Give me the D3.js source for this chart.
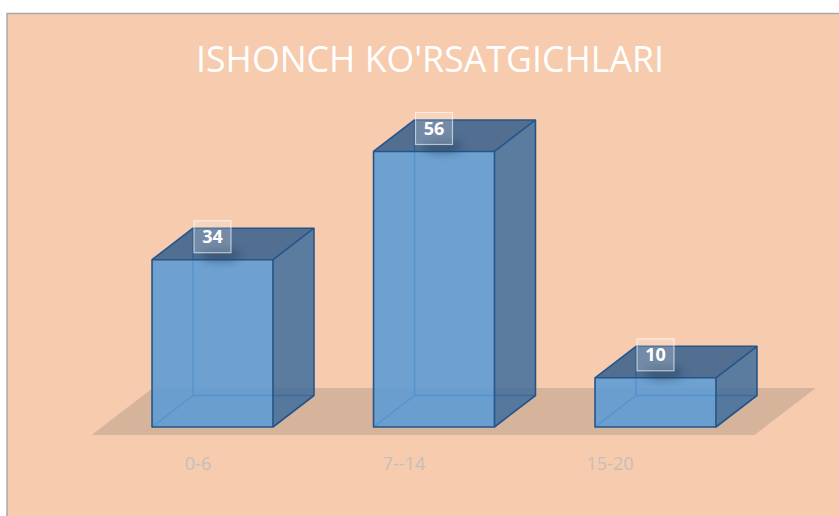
<!DOCTYPE html>
<html>
<head>
<meta charset="utf-8">
<script src="https://cdn.jsdelivr.net/npm/d3@7"></script>
<style>
  body { margin: 0; background: #fff; }
  svg { display: block; }
</style>
</head>
<body>
<div id="chart"></div>
<script>
const categories = ["0-6", "7--14", "15-20"];
const values = [34, 56, 10];
const title = "ISHONCH KO'RSATGICHLARI";

const W = 839, H = 516;
const depth = { dx: 41, dy: -31.5 };

const svg = d3.select("#chart").append("svg")
  .attr("width", W)
  .attr("height", H);

// Chart area background with grey top/left frame
svg.append("rect")
  .attr("x", 7).attr("y", 13.5)
  .attr("width", W).attr("height", H)
  .attr("fill", "#f7cbad")
  .attr("stroke", "#a9a9a9")
  .attr("stroke-width", 1.5);

const defs = svg.append("defs");
defs.append("filter").attr("id", "blur")
  .attr("x", "-50%").attr("y", "-50%").attr("width", "200%").attr("height", "200%")
  .append("feGaussianBlur").attr("stdDeviation", 4);

const x = d3.scaleBand()
  .domain(categories)
  .range([101.75, 766.25])
  .paddingInner(0.454)
  .paddingOuter(0.227);

const y = d3.scaleLinear()
  .domain([0, 60])
  .range([427, 131.8]);

// axis labels sit on the front edge of the floor (perspective shifted)
const xLabel = d3.scalePoint()
  .domain(categories)
  .range([198, 610]);

// Title
svg.append("text")
  .attr("x", 430)
  .attr("y", 72)
  .attr("text-anchor", "middle")
  .attr("font-family", "'Open Sans', sans-serif")
  .attr("font-size", 37)
  .attr("fill", "#ffffff")
  .attr("textLength", 468)
  .attr("lengthAdjust", "spacingAndGlyphs")
  .text(title);

// Floor
const base = y(0);
const f0 = x(categories[0]) - 50;
const f1 = x(categories[categories.length - 1]) + x.bandwidth() + 49;
const fz = 8 / 31.5; // floor overhang in front
const fBack = 1 + 7.5 / 31.5;
const floorPts = [
  [f0 - depth.dx * fz, base - depth.dy * fz],
  [f1 - depth.dx * fz, base - depth.dy * fz],
  [f1 + depth.dx * fBack, base + depth.dy * fBack],
  [f0 + depth.dx * fBack, base + depth.dy * fBack]
];
svg.append("polygon")
  .attr("points", floorPts.map(p => p.join(",")).join(" "))
  .attr("fill", "#d6b39b");

// Bars
const bars = svg.selectAll("g.bar")
  .data(categories.map((c, i) => ({ cat: c, value: values[i] })))
  .join("g")
  .attr("class", "bar");

bars.each(function (d) {
  const g = d3.select(this);
  const x0 = x(d.cat), x1 = x0 + x.bandwidth();
  const y0 = y(d.value), y1 = base;
  const dx = depth.dx, dy = depth.dy;
  const poly = pts => pts.map(p => p.join(",")).join(" ");

  // hidden back edges
  g.append("polyline")
    .attr("points", poly([[x0 + dx, y0 + dy], [x0 + dx, y1 + dy], [x1 + dx, y1 + dy]]))
    .attr("fill", "none").attr("stroke", "#2f5f95").attr("stroke-width", 1.5);
  g.append("line")
    .attr("x1", x0).attr("y1", y1).attr("x2", x0 + dx).attr("y2", y1 + dy)
    .attr("stroke", "#2f5f95").attr("stroke-width", 1.5);

  // front
  g.append("rect")
    .attr("x", x0).attr("y", y0)
    .attr("width", x1 - x0).attr("height", y1 - y0)
    .attr("fill", "#5b9bd5").attr("fill-opacity", 0.88);
  // right side
  g.append("polygon")
    .attr("points", poly([[x1, y0], [x1 + dx, y0 + dy], [x1 + dx, y1 + dy], [x1, y1]]))
    .attr("fill", "#3f6d9c").attr("fill-opacity", 0.85);
  // top
  g.append("polygon")
    .attr("points", poly([[x0, y0], [x0 + dx, y0 + dy], [x1 + dx, y0 + dy], [x1, y0]]))
    .attr("fill", "#355f8c").attr("fill-opacity", 0.85);

  // visible edges
  g.append("path")
    .attr("d", `M${x0},${y0}H${x1}V${y1}H${x0}Z M${x0},${y0}L${x0 + dx},${y0 + dy}H${x1 + dx}V${y1 + dy}L${x1},${y1} M${x1},${y0}L${x1 + dx},${y0 + dy}`)
    .attr("fill", "none")
    .attr("stroke", "#24558a")
    .attr("stroke-width", 1.6)
    .attr("stroke-linejoin", "round");

  // data label
  const cx = (x0 + x1) / 2, cy = y0 - 23;
  g.append("ellipse")
    .attr("cx", cx + 8).attr("cy", cy + 18)
    .attr("rx", 20).attr("ry", 7)
    .attr("fill", "#1f3a5a").attr("opacity", 0.45)
    .attr("filter", "url(#blur)");
  g.append("rect")
    .attr("x", cx - 18.5).attr("y", cy - 16)
    .attr("width", 37).attr("height", 32)
    .attr("fill", "#ffffff").attr("fill-opacity", 0.2)
    .attr("stroke", "#ffffff").attr("stroke-opacity", 0.6)
    .attr("stroke-width", 1.2);
  g.append("text")
    .attr("x", cx).attr("y", cy + 6.5)
    .attr("text-anchor", "middle")
    .attr("font-family", "'Open Sans', sans-serif")
    .attr("font-weight", "bold")
    .attr("font-size", 18)
    .attr("fill", "#ffffff")
    .text(d.value);
});

// Category axis labels
svg.append("g")
  .selectAll("text")
  .data(categories)
  .join("text")
  .attr("x", d => xLabel(d))
  .attr("y", 470)
  .attr("text-anchor", "middle")
  .attr("font-family", "'Open Sans', sans-serif")
  .attr("font-size", 18)
  .attr("fill", "#c4bfbb")
  .text(d => d);
</script>
</body>
</html>
